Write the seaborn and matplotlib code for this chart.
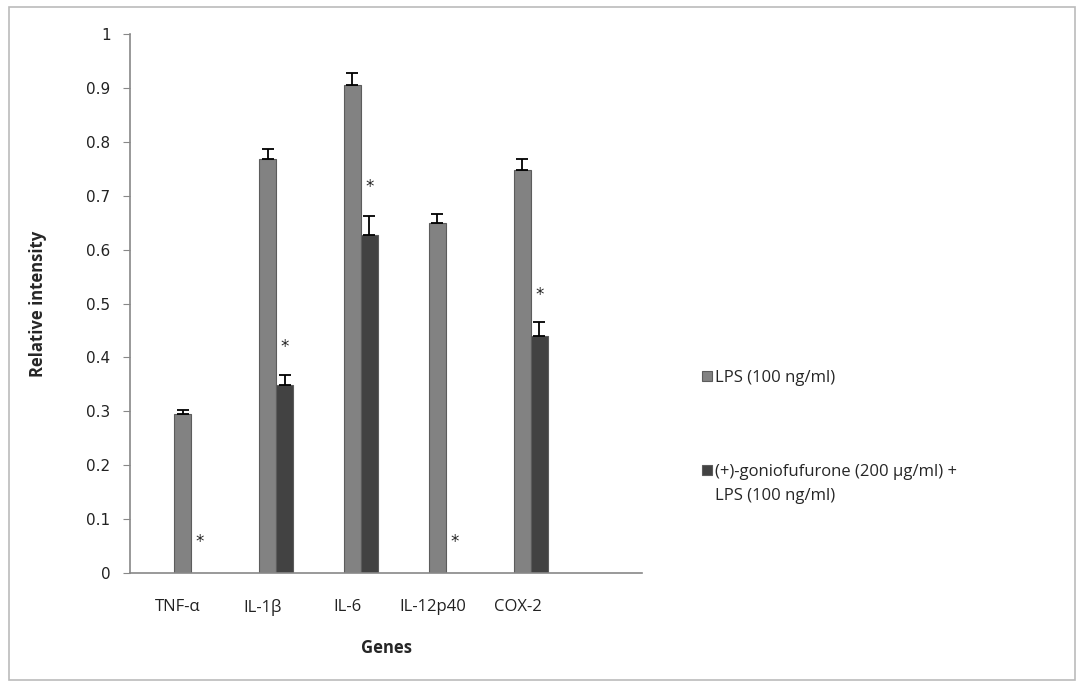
import numpy as np
import pandas as pd
import matplotlib
matplotlib.use("Agg")
import matplotlib.pyplot as plt
import matplotlib.transforms as mtransforms
import seaborn as sns
from matplotlib.patches import Rectangle

genes = ["TNF-α", "IL-1β", "IL-6", "IL-12p40", "COX-2"]
series = ["LPS (100 ng/ml)", "(+)-goniofufurone (200 µg/ml) +"]
series_line2 = "LPS (100 ng/ml)"
lps_vals = [0.295, 0.769, 0.906, 0.650, 0.747]
lps_err = [0.008, 0.018, 0.022, 0.016, 0.022]
gon_vals = [0.0, 0.349, 0.627, 0.0, 0.440]
gon_err = [0.0, 0.018, 0.035, 0.0, 0.025]
star_y = [0.057, 0.420, 0.716, 0.057, 0.516]
yticks = [0, 0.1, 0.2, 0.3, 0.4, 0.5, 0.6, 0.7, 0.8, 0.9, 1]
ytick_labels = ["0", "0.1", "0.2", "0.3", "0.4", "0.5", "0.6", "0.7", "0.8", "0.9", "1"]

df = pd.DataFrame({
    "gene": genes * 2,
    "series": [series[0]] * 5 + [series[1]] * 5,
    "value": lps_vals + gon_vals,
})

sns.set_style("white")
plt.rcParams["font.family"] = ["DejaVu Sans"]

W, H = 1079, 684
fig = plt.figure(figsize=(W / 100, H / 100), dpi=100)
ax = fig.add_axes([130 / W, 1 - 573 / H, (642 - 130) / W, (573 - 34) / H])

colors = ["#828282", "#424242"]
sns.barplot(data=df, x="gene", y="value", hue="series", order=genes, hue_order=series,
            palette=colors, width=0.4, errorbar=None, ax=ax, saturation=1,
            edgecolor="#5c5c5c", linewidth=0.8)

containers = ax.containers
for k, (cont, vals, errs) in enumerate(zip(containers, [lps_vals, gon_vals], [lps_err, gon_err])):
    xs = [p.get_x() + p.get_width() / 2 for p in cont.patches]
    xe = [x for x, e in zip(xs, errs) if e > 0]
    ve = [v for v, e in zip(vals, errs) if e > 0]
    ee = [e for e in errs if e > 0]
    ax.errorbar(xe, ve, yerr=[np.zeros(len(ee)), ee], fmt="none", ecolor="black",
                elinewidth=1.3, capsize=4.5, capthick=1.3)
    if k == 1:
        for x, sy in zip(xs, star_y):
            ax.text(x, sy, "*", fontsize=12, ha="center", va="center",
                    family="DejaVu Sans", color="#222222")

ax.set_xlim(-0.72, 5.31)
ax.set_ylim(0, 1)
ax.set_yticks(yticks)
ax.set_yticklabels(ytick_labels, fontsize=11, color="#222222")
ax.tick_params(axis="y", direction="out", length=5, color="#888888", left=True, pad=9)
ax.tick_params(axis="x", length=0, pad=19)
# category labels sit slightly left of the group centre, as in the original
for lbl in ax.get_xticklabels():
    lbl.set_family("Open Sans")
    lbl.set_fontsize(12)
    lbl.set_color("#222222")
    lbl.set_transform(lbl.get_transform() + mtransforms.ScaledTranslation(-13 / 100, 0, fig.dpi_scale_trans))

for s in ["top", "right"]:
    ax.spines[s].set_visible(False)
for s in ["left", "bottom"]:
    ax.spines[s].set_color("#888888")
    ax.spines[s].set_linewidth(1.2)

ax.set_xlabel("Genes", fontsize=12, fontweight="bold", family="Open Sans", labelpad=16)
ax.set_ylabel("Relative intensity", fontsize=12, fontweight="bold", family="Open Sans", labelpad=28)

handles, labels = ax.get_legend_handles_labels()
leg = ax.legend(handles, labels, loc="upper left", bbox_to_anchor=(702 / W, 1 - 370 / H),
                bbox_transform=fig.transFigure, frameon=False,
                prop={"family": "Open Sans", "size": 12}, handlelength=0.6, handleheight=0.6,
                handletextpad=0.2, labelspacing=4.66, borderaxespad=0, borderpad=0)

fig.canvas.draw()
t2 = leg.get_texts()[1]
bb = t2.get_window_extent(renderer=fig.canvas.get_renderer())
fig.text(bb.x0 / W, (bb.y0 - 24) / H, series_line2, fontsize=12, family="Open Sans",
         color=t2.get_color(), ha="left", va="bottom")

fig.patches.append(Rectangle((9 / W, 4 / H), 1066 / W, 673 / H, transform=fig.transFigure,
                             fill=False, edgecolor="#bbbbbb", linewidth=1.2))

fig.savefig("out.png", dpi=100)
